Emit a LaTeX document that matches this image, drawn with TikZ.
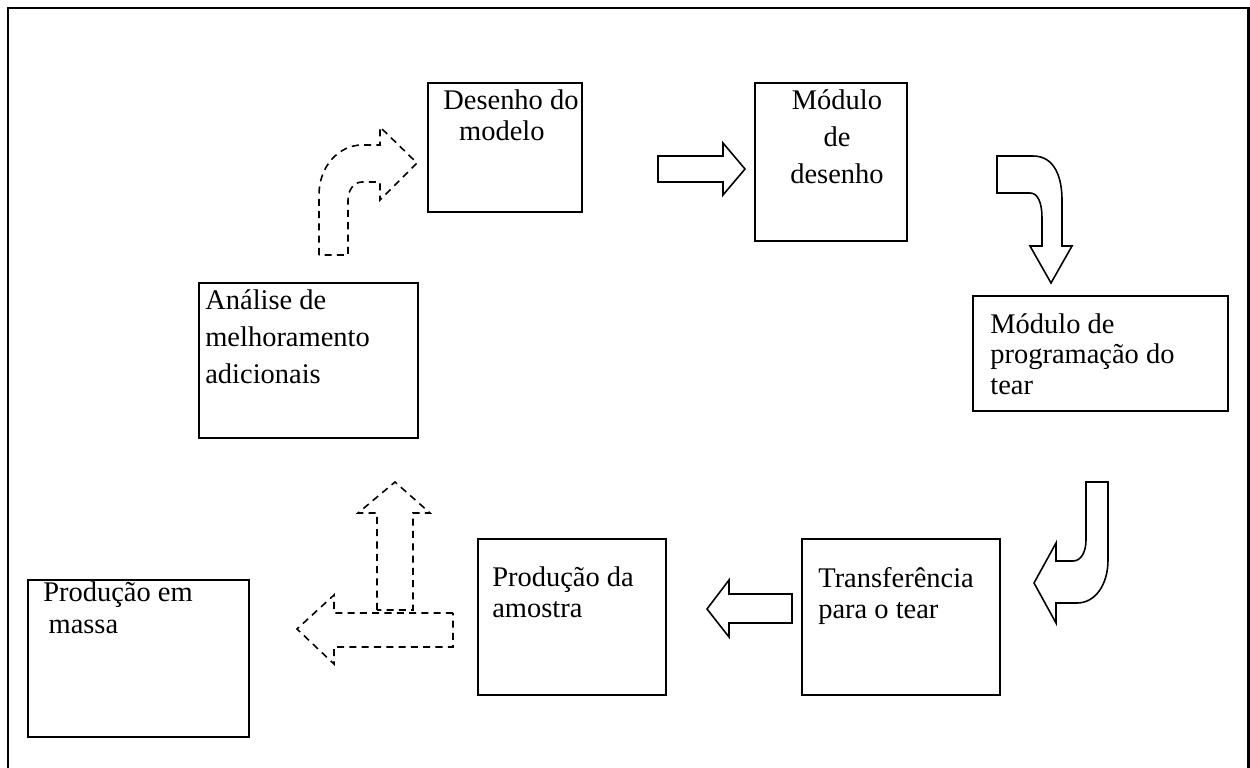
\documentclass[tikz,border=0pt]{standalone}
\usepackage{fontspec}
\setmainfont{Liberation Serif}
\usetikzlibrary{fit}

\tikzset{
  box/.style={draw, line width=1.1pt, inner sep=0pt},
  lbl/.style={anchor=base west, inner sep=0pt, align=left},
  blockarrow/.style={draw, line width=0.9pt, line join=miter},
  dasharrow/.style={draw, line width=0.9pt, dash pattern=on 4pt off 3pt}
}

\begin{document}
\begin{tikzpicture}[x=0.02cm, y=-0.02cm]
  \useasboundingbox (0,0) rectangle (1250,767);
  % outer frame, open at the bottom
  \draw[line width=1.7pt] (8,790) -- (8,8) -- (1248,8) -- (1248,790);

  % the boxes
  \node[box, fit={(428,83) (582,212)}]   (desenhoModelo)  {};
  \node[box, fit={(755,83) (907,241)}]   (moduloDesenho)  {};
  \node[box, fit={(973,296) (1228,411)}] (moduloProg)     {};
  \node[box, fit={(199,283) (418,438)}]  (analise)        {};
  \node[box, fit={(28,580) (249,737)}]   (producaoMassa)  {};
  \node[box, fit={(478,539) (666,695)}]  (producaoAmostra){};
  \node[box, fit={(802,539) (1000,695)}] (transferencia)  {};

  % the texts (placed at the baseline of their last line)
  \node[lbl, font=\fontsize{16.2}{17.6}\selectfont] (desenhoModeloTxt) at (443,140)
    {Desenho do\\\hspace*{9pt}modelo};
  \node[anchor=base, inner sep=0pt, align=center,
        font=\fontsize{16.2}{21}\selectfont] (moduloDesenhoTxt) at (837,183)
    {Módulo\\de\\desenho};
  \node[lbl, font=\fontsize{16.2}{17.1}\selectfont] (moduloProgTxt) at (990,394)
    {Módulo de\\programação do\\tear};
  \node[lbl, font=\fontsize{16.2}{21}\selectfont] (analiseTxt) at (205,383)
    {Análise de\\melhoramento\\adicionais};
  \node[lbl, font=\fontsize{16.2}{18.2}\selectfont] (producaoMassaTxt) at (43,633)
    {Produção em\\\hspace*{3pt}massa};
  \node[lbl, font=\fontsize{16.2}{17.1}\selectfont] (producaoAmostraTxt) at (492,617)
    {Produção da\\amostra};
  \node[lbl, font=\fontsize{16.2}{17.6}\selectfont] (transferenciaTxt) at (818,618)
    {Transferência\\para o tear};

  % solid block arrows
  \draw[blockarrow] (658,156) -- (723,156) -- (723,143) -- (745,169)
    -- (723,195) -- (723,182) -- (658,182) -- cycle;
  \draw[blockarrow] (792,594) -- (729,594) -- (729,580) -- (707,609)
    -- (729,637) -- (729,623) -- (792,623) -- cycle;
  % curved arrow going down
  \draw[blockarrow] (997,156) -- (1033,156)
    .. controls (1055,156) and (1062,178) .. (1062,200)
    -- (1062,246) -- (1072,246) -- (1051,283) -- (1030,246) -- (1042,246)
    -- (1042,218) .. controls (1042,203) and (1038,193) .. (1030,193)
    -- (997,193) -- cycle;
  % curved arrow going left
  \draw[blockarrow] (1086,482) -- (1108,482) -- (1108,560)
    .. controls (1108,585) and (1095,603) .. (1077,603)
    -- (1056,603) -- (1056,623) -- (1034,583) -- (1056,543) -- (1056,561)
    -- (1073,561) .. controls (1081,561) and (1086,552) .. (1086,540)
    -- cycle;

  % dashed arrows
  \draw[dasharrow] (319,255) -- (319,195)
    .. controls (319,165) and (340,145) .. (362,145)
    -- (380,145) -- (380,127) -- (417,163) -- (380,200) -- (380,182)
    -- (362,182) .. controls (354,182) and (348,190) .. (348,200)
    -- (348,255) -- cycle;
  \draw[dasharrow] (377,610) -- (377,513) -- (358,513) -- (395,482)
    -- (430,513) -- (413,513) -- (413,610) -- cycle;
  \draw[dasharrow] (453,613) -- (334,613) -- (334,595) -- (297,629)
    -- (334,664) -- (334,647) -- (453,647) -- cycle;
\end{tikzpicture}
\end{document}
